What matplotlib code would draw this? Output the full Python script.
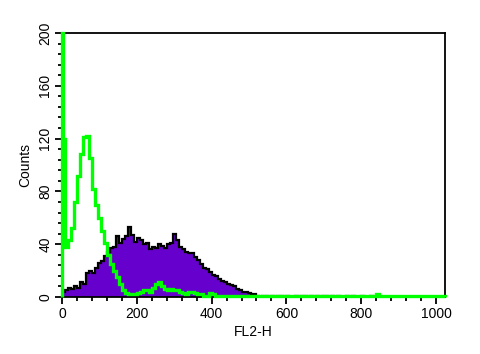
import numpy as np
import matplotlib
matplotlib.use("Agg")
import matplotlib.pyplot as plt
from matplotlib.ticker import MultipleLocator

# ---- data (FL2-H channel histograms, 8-channel bins from 0) ----
bin_width = 8
n_channels = 1024

purple_counts = [
    4, 5, 7, 6, 8, 7, 11, 10, 18, 20, 18, 22, 26, 27, 31, 34, 37, 38, 46, 41,
    44, 46, 53, 47, 42, 45, 43, 40, 41, 36, 38, 37, 40, 39, 37, 40, 41, 48, 43, 38,
    36, 34, 33, 33, 30, 28, 25, 22, 21, 19, 17, 16, 14, 12, 11, 10, 9, 8, 6, 5,
    4, 4, 3, 2, 2, 1, 0, 1, 1, 0, 1, 0, 1, 1, 0, 1, 0, 0, 1, 0,
    1, 1, 0, 1, 0, 1, 0, 1, 1, 0, 1, 0, 1, 0, 0, 1, 0, 1, 0, 0,
    1, 0, 0, 1,
]

green_ch0_count = 200          # off-scale spike at channel 0 (clipped at top)
green_counts = [
    120, 38, 43, 52, 72, 92, 108, 121, 122, 105, 82, 70, 60, 50, 41, 32, 25, 20, 15, 10,
    5, 3, 2, 2, 2, 3, 4, 5, 5, 4, 7, 10, 11, 8, 6, 5, 6, 5, 5, 4,
    3, 2, 4, 4, 3, 2, 2, 1, 1, 3, 2, 1, 1, 1, 1, 1, 1, 1, 1, 1,
    1, 1, 1, 1, 1, 1, 1, 1, 1, 1, 1, 1, 1, 1, 1, 1, 1, 1, 1, 1,
    1, 1, 1, 1, 1, 1, 1, 1, 1, 1, 1, 1, 1, 1, 1, 1, 1, 1, 1, 1,
    1, 1, 1, 1, 1, 2, 1, 1, 1, 1, 1, 1, 1, 1, 1, 1, 1, 1, 1, 1,
    1, 1, 1, 1, 1, 1, 1, 1,
]

x_ticks = [0, 200, 400, 600, 800, 1000]
y_ticks = [0, 40, 80, 120, 160, 200]
x_label = "FL2-H"
y_label = "Counts"

# ---- figure ----
plt.rcParams['font.family'] = ['Liberation Sans', 'DejaVu Sans']
fig = plt.figure(figsize=(4.8, 3.54), dpi=100)
ax = fig.add_axes([62 / 480, 57 / 354, 383 / 480, 264 / 354])

p_edges = np.arange(len(purple_counts) + 1) * bin_width
ax.stairs(purple_counts, p_edges, fill=True, color="#6600CC", zorder=2)
ax.stairs(purple_counts, p_edges, color="black", linewidth=1.6, zorder=2.5)

g_edges = np.concatenate([[0, 2], np.arange(1, len(green_counts) + 1) * bin_width])
g_vals = [green_ch0_count] + green_counts
ax.stairs(g_vals, g_edges, color="#00FF00", linewidth=2.4, zorder=3, clip_on=False)

ax.set_xlim(0, n_channels)
ax.set_ylim(0, 200)
ax.set_xticks(x_ticks)
ax.set_yticks(y_ticks)
ax.xaxis.set_minor_locator(MultipleLocator(40))
ax.yaxis.set_minor_locator(MultipleLocator(8))
ax.tick_params(which="major", direction="out", length=5, width=1.3, labelsize=10, pad=2)
ax.tick_params(which="minor", direction="out", length=3, width=1.3)
ax.tick_params(axis="y", labelrotation=90)
for lab in ax.get_yticklabels():
    lab.set_va("center")
for s in ax.spines.values():
    s.set_linewidth(1.3)

ax.set_xlabel(x_label, fontsize=10, labelpad=3)
ax.set_ylabel(y_label, fontsize=10, labelpad=4)

fig.savefig("out.png", dpi=100)
